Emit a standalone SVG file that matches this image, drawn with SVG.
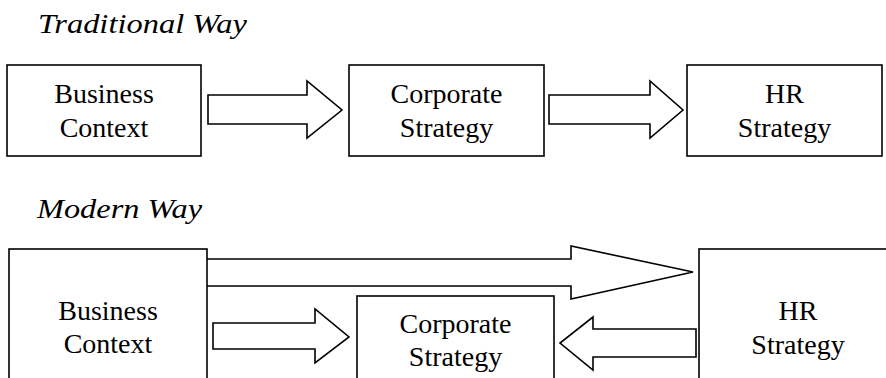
<svg xmlns="http://www.w3.org/2000/svg" width="886" height="378" viewBox="0 0 886 378">
<style>
.box{fill:#fff;stroke:#000;stroke-width:1.6}
.arr{fill:#fff;stroke:#000;stroke-width:1.6;stroke-linejoin:miter}
.t{font-family:"Liberation Serif","Times New Roman",serif;font-size:28px;fill:#000;text-anchor:middle}
.h{font-family:"Liberation Serif","Times New Roman",serif;font-size:28px;font-style:italic;fill:#000}
</style>
<rect width="886" height="378" fill="#fff"/>
<text class="h" x="38" y="33" textLength="209" lengthAdjust="spacingAndGlyphs">Traditional Way</text>
<text class="h" x="37" y="218" textLength="165" lengthAdjust="spacingAndGlyphs">Modern Way</text>
<g id="connectors">
<path class="arr" d="M208,95 H307 V81 L342,110 L307,138 V124 H208 Z"/>
<path class="arr" d="M549,95 H650 V81 L683,110 L650,138 V124 H549 Z"/>
<path class="arr" d="M207,259 H571 V246 L693,272 L571,299 V286 H207"/>
<path class="arr" d="M213,323 H315 V309 L349,337 L315,363 V349 H213 Z"/>
<path class="arr" d="M696,329 H593 V317 L560,343 L593,370 V357 H696 Z"/>
</g>
<g id="t-business">
<rect class="box" x="7" y="65" width="194" height="91"/>
<text class="t" x="104" y="103">Business</text>
<text class="t" x="104" y="137">Context</text>
</g>
<g id="t-corporate">
<rect class="box" x="349" y="65" width="195" height="91"/>
<text class="t" x="446.5" y="103">Corporate</text>
<text class="t" x="446.5" y="137">Strategy</text>
</g>
<g id="t-hr">
<rect class="box" x="687" y="65" width="195" height="91"/>
<text class="t" x="784.5" y="103">HR</text>
<text class="t" x="784.5" y="137">Strategy</text>
</g>
<g id="m-business">
<rect class="box" x="9" y="249" width="198" height="140"/>
<text class="t" x="108" y="320">Business</text>
<text class="t" x="108" y="353">Context</text>
</g>
<g id="m-corporate">
<rect class="box" x="357" y="296" width="197" height="100"/>
<text class="t" x="455.5" y="333">Corporate</text>
<text class="t" x="455.5" y="366">Strategy</text>
</g>
<g id="m-hr">
<rect class="box" x="699" y="249" width="200" height="140"/>
<text class="t" x="798" y="320">HR</text>
<text class="t" x="798" y="354">Strategy</text>
</g>
</svg>
